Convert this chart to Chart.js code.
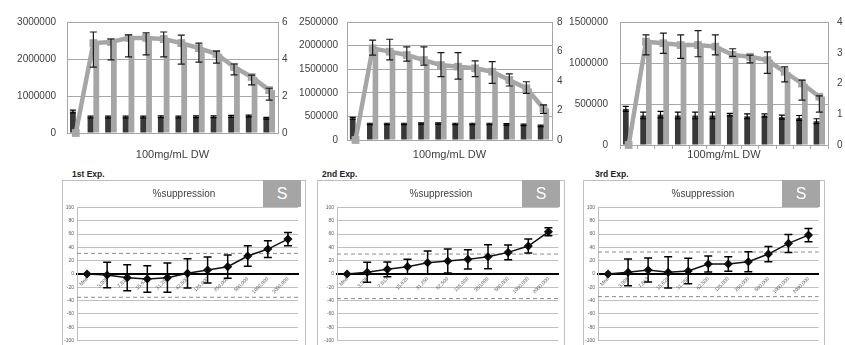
<!DOCTYPE html>
<html>
<head>
<meta charset="utf-8">
<script src="https://cdn.jsdelivr.net/npm/chart.js@4.4.0/dist/chart.umd.min.js"></script>
<style>
  html, body { margin: 0; padding: 0; background: #fff; }
  body { width: 845px; height: 345px; position: relative; overflow: hidden; font-family: "Liberation Sans", Arial, sans-serif; }
  canvas { position: absolute; }
  .box { position: absolute; top: 180px; height: 178px; border: 1px solid #bfbfbf; background: #fff; }
  .exp { position: absolute; top: 169px; font-size: 8.5px; font-weight: bold; color: #222; }
  .ttl { position: absolute; top: 188px; font-size: 10px; color: #404040; transform: translateX(-50%); white-space: nowrap; }
  .sbox { position: absolute; top: 180px; width: 38px; height: 27px; background: #a5a5a5; color: #fff; font-size: 16px; text-align: center; line-height: 27px; }
</style>
</head>
<body>
<canvas id="c1" width="290" height="165" style="left:0;top:0"></canvas>
<canvas id="c2" width="276" height="165" style="left:290px;top:0"></canvas>
<canvas id="c3" width="279" height="165" style="left:566px;top:0"></canvas>

<div class="exp" style="left:72px">1st Exp.</div>
<div class="exp" style="left:322px">2nd Exp.</div>
<div class="exp" style="left:595px">3rd Exp.</div>

<div class="box" style="left:62px;width:242px"></div>
<div class="box" style="left:317px;width:246px"></div>
<div class="box" style="left:583px;width:240px"></div>

<canvas id="s1" width="242" height="178" style="left:63px;top:181px"></canvas>
<canvas id="s2" width="246" height="178" style="left:318px;top:181px"></canvas>
<canvas id="s3" width="240" height="178" style="left:584px;top:181px"></canvas>

<div class="ttl" style="left:184px">%suppression</div>
<div class="ttl" style="left:441px">%suppression</div>
<div class="ttl" style="left:703px">%suppression</div>
<div class="sbox" style="left:263px">S</div>
<div class="sbox" style="left:522px">S</div>
<div class="sbox" style="left:782px">S</div>

<script>
// top row: 12 wells per experiment
var topCategories = ['1', '2', '3', '4', '5', '6', '7', '8', '9', '10', '11', '12'];

var exp1Dark = [580000, 430000, 430000, 430000, 430000, 440000, 430000, 440000, 440000, 450000, 460000, 400000];
var exp1DarkErr = [40000, 25000, 25000, 25000, 25000, 25000, 25000, 25000, 25000, 25000, 25000, 25000];
var exp1Light = [0, 2430000, 2460000, 2570000, 2570000, 2540000, 2430000, 2300000, 2140000, 1780000, 1510000, 1160000];
var exp1Line = [0, 4.86, 4.92, 5.14, 5.14, 5.08, 4.86, 4.59, 4.27, 3.57, 3.03, 2.32];
var exp1LineUp = [0, 0.6, 0.16, 0.16, 0.27, 0.38, 0.43, 0.27, 0.16, 0.16, 0.1, 0.1];
var exp1LineDown = [0, 1.3, 0.97, 1.03, 0.92, 0.97, 1.14, 0.76, 0.49, 0.43, 0.43, 0.54];

var exp2Dark = [460000, 340000, 340000, 340000, 350000, 350000, 340000, 340000, 340000, 330000, 320000, 300000];
var exp2DarkErr = [20000, 15000, 15000, 15000, 15000, 15000, 15000, 15000, 15000, 15000, 15000, 15000];
var exp2Light = [0, 1940000, 1870000, 1800000, 1690000, 1590000, 1550000, 1520000, 1450000, 1270000, 1090000, 670000];
var exp2Line = [0, 6.21, 5.99, 5.76, 5.42, 5.08, 4.97, 4.86, 4.63, 4.07, 3.5, 2.15];
var exp2LineUp = [0, 0.56, 0.84, 0.56, 0.9, 0.84, 0.95, 0.5, 0.68, 0.41, 0.45, 0.23];
var exp2LineDown = [0, 0.45, 0.56, 0.41, 0.34, 0.79, 0.84, 0.57, 0.79, 0.41, 0.34, 0.34];

var exp3Dark = [440000, 360000, 370000, 360000, 360000, 360000, 370000, 350000, 360000, 340000, 330000, 290000];
var exp3DarkErr = [30000, 40000, 40000, 40000, 40000, 40000, 15000, 30000, 20000, 25000, 30000, 30000];
var exp3Light = [0, 1260000, 1240000, 1220000, 1220000, 1200000, 1100000, 1080000, 1040000, 890000, 750000, 590000];
var exp3Line = [0, 3.36, 3.31, 3.25, 3.25, 3.2, 2.93, 2.87, 2.76, 2.38, 2.0, 1.57];
var exp3LineUp = [0, 0.22, 0.33, 0.33, 0.47, 0.38, 0.2, 0.05, 0.27, 0.16, 0.11, 0.03];
var exp3LineDown = [0, 0.43, 0.33, 0.43, 0.38, 0.27, 0.05, 0.2, 0.43, 0.33, 0.54, 0.5];

// bottom row: %suppression per dilution
var dilutions = ['Med', '3,906', '7,813', '15,625', '31,250', '62,500', '125,000', '250,000', '500,000', '1000,000', '2000,000'];
var supp1 = [0, -1.5, -5.5, -7.5, -5.5, 1, 6, 11, 27, 37.5, 52.5];
var supp1Err = [0, 19, 19.5, 20, 22, 22, 19.5, 17.5, 15.5, 12.5, 10];
var cut1 = [31, -35];
var supp2 = [0, 2.5, 7, 11, 17, 19.5, 22, 26, 32.5, 42, 63.5];
var supp2Err = [0, 15, 11, 11, 17.5, 18, 14.5, 18, 11, 10.5, 6];
var cut2 = [30, -37];
var supp3 = [0, 2.5, 6, 2.5, 4.5, 15, 15, 18.5, 30, 46, 58.5];
var supp3Err = [0, 20, 18, 23.5, 19, 12, 11, 15, 11.5, 13.5, 10];
var cut3 = [33, -34];

Chart.defaults.font.family = '"Liberation Sans", Arial, sans-serif';

var errorBars = {
    id: 'errorBars',
    afterDatasetsDraw: function (chart) {
        var ctx = chart.ctx;
        chart.data.datasets.forEach(function (ds, i) {
            if (!ds.errUp) return;
            var meta = chart.getDatasetMeta(i);
            var ys = chart.scales[meta.yAxisID];
            var down = ds.errDown || ds.errUp;
            var cap = ds.capHalf || 3;
            ctx.save();
            ctx.strokeStyle = ds.errColor || '#000';
            ctx.lineWidth = ds.errWidth || 1.2;
            meta.data.forEach(function (el, j) {
                var v = ds.data[j], up = ds.errUp[j] || 0, dn = down[j] || 0;
                if (!up && !dn) return;
                var x = el.x;
                var y0 = ys.getPixelForValue(v + up);
                var y1 = ys.getPixelForValue(v - dn);
                ctx.beginPath();
                ctx.moveTo(x, y0); ctx.lineTo(x, y1);
                if (up) { ctx.moveTo(x - cap, y0); ctx.lineTo(x + cap, y0); }
                if (dn) { ctx.moveTo(x - cap, y1); ctx.lineTo(x + cap, y1); }
                ctx.stroke();
            });
            ctx.restore();
        });
    }
};

var cutoffLines = {
    id: 'cutoffLines',
    beforeDatasetsDraw: function (chart, args, opts) {
        if (!opts.values) return;
        var ctx = chart.ctx, area = chart.chartArea, y = chart.scales.y;
        ctx.save();
        ctx.setLineDash([4, 3]);
        ctx.strokeStyle = '#8c8c8c';
        ctx.lineWidth = 1;
        opts.values.forEach(function (v) {
            var py = y.getPixelForValue(v);
            ctx.beginPath();
            ctx.moveTo(area.left, py);
            ctx.lineTo(area.right, py);
            ctx.stroke();
        });
        ctx.restore();
    }
};

function topChart(id, dark, darkErr, light, line, lineUp, lineDown, ax) {
    new Chart(document.getElementById(id), {
        type: 'bar',
        data: {
            labels: topCategories,
            datasets: [
                { type: 'line', data: line, errUp: lineUp, errDown: lineDown, yAxisID: 'y1',
                  borderColor: '#a6a6a6', backgroundColor: '#a6a6a6', borderWidth: 4.5, clip: false,
                  pointStyle: 'rect', pointRadius: 5.5, pointBorderWidth: 0, order: 0, capHalf: 3.5, errColor: '#1a1a1a' },
                { data: dark, errUp: darkErr, yAxisID: 'y', backgroundColor: '#383838', order: 1, capHalf: 3 },
                { data: light, yAxisID: 'y', backgroundColor: '#a6a6a6', order: 1 }
            ]
        },
        options: {
            responsive: false,
            animation: false,
            layout: { padding: { top: 22, bottom: 0 } },
            datasets: { bar: { categoryPercentage: 0.66, barPercentage: 1.0 } },
            plugins: { legend: { display: false }, tooltip: { enabled: false } },
            scales: {
                x: {
                    ticks: { display: false },
                    grid: { display: ax.ticks, drawOnChartArea: false, tickLength: 4, color: '#a6a6a6' },
                    border: { color: '#a6a6a6' },
                    title: { display: true, text: '100mg/mL DW', color: '#404040', font: { size: 11 }, padding: { top: 0, bottom: 3 } },
                    afterFit: function (s) { s.height = ax.xh; }
                },
                y: {
                    position: 'left', min: 0, max: ax.lMax,
                    ticks: { stepSize: ax.lStep, color: '#404040', font: { size: 10 }, padding: ax.lPad,
                             callback: function (v) { return String(v); } },
                    grid: { color: '#a6a6a6', drawTicks: false },
                    border: { color: '#a6a6a6' },
                    afterFit: function (s) { s.width = ax.lw; }
                },
                y1: {
                    position: 'right', min: 0, max: ax.rMax,
                    ticks: { stepSize: ax.rStep, color: '#404040', font: { size: 10 }, padding: ax.rPad },
                    grid: { display: false, drawTicks: false },
                    border: { color: '#a6a6a6' },
                    afterFit: function (s) { s.width = ax.rw; }
                }
            }
        },
        plugins: [errorBars]
    });
}

function suppChart(id, vals, errs, cuts, yw, padR) {
    new Chart(document.getElementById(id), {
        type: 'line',
        data: {
            labels: dilutions,
            datasets: [{
                data: vals, errUp: errs, borderColor: '#111', backgroundColor: '#111',
                borderWidth: 1.5, pointStyle: 'rectRot', pointRadius: 3.5, capHalf: 4, errWidth: 1.5
            }]
        },
        options: {
            responsive: false,
            animation: false,
            layout: { padding: { top: 26.5, bottom: 18.5, left: 0, right: padR } },
            plugins: { legend: { display: false }, tooltip: { enabled: false }, cutoffLines: { values: cuts } },
            scales: {
                x: {
                    position: { y: 0 }, offset: true,
                    ticks: { autoSkip: false, minRotation: 45, maxRotation: 45, font: { size: 5 }, color: '#595959', padding: 2 },
                    grid: { display: false, drawTicks: false },
                    border: { color: '#000', width: 2 }
                },
                y: {
                    min: -100, max: 100,
                    ticks: { stepSize: 20, font: { size: 5 }, color: '#595959', padding: 3 },
                    grid: { color: '#bfbfbf', drawTicks: false },
                    border: { color: '#bfbfbf' },
                    afterFit: function (s) { s.width = yw; }
                }
            }
        },
        plugins: [errorBars, cutoffLines]
    });
}

topChart('c1', exp1Dark, exp1DarkErr, exp1Light, exp1Line, exp1LineUp, exp1LineDown,
    { lMax: 3000000, lStep: 1000000, rMax: 6, rStep: 2, lw: 67, rw: 12, lPad: 11, rPad: 4, xh: 32, ticks: false });
topChart('c2', exp2Dark, exp2DarkErr, exp2Light, exp2Line, exp2LineUp, exp2LineDown,
    { lMax: 2500000, lStep: 500000, rMax: 8, rStep: 2, lw: 57, rw: 14, lPad: 9, rPad: 5, xh: 25, ticks: false });
topChart('c3', exp3Dark, exp3DarkErr, exp3Light, exp3Line, exp3LineUp, exp3LineDown,
    { lMax: 1500000, lStep: 500000, rMax: 4, rStep: 1, lw: 54, rw: 17, lPad: 12, rPad: 9, xh: 20, ticks: true });

suppChart('s1', supp1, supp1Err, cut1, 14, 7);
suppChart('s2', supp2, supp2Err, cut2, 19, 5);
suppChart('s3', supp3, supp3Err, cut3, 14, 4);
</script>
</body>
</html>
